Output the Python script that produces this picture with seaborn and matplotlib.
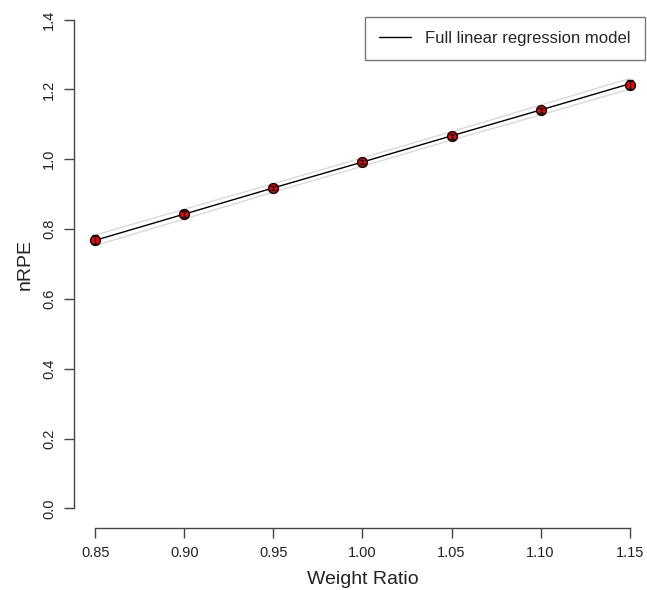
import matplotlib
matplotlib.use("Agg")
import matplotlib.pyplot as plt
import seaborn as sns
import numpy as np
import pandas as pd

weight_ratio = [0.85, 0.90, 0.95, 1.00, 1.05, 1.10, 1.15]
nrpe_mean = [0.770, 0.843, 0.917, 0.992, 1.066, 1.140, 1.214]
nrpe_err = [0.012, 0.008, 0.006, 0.006, 0.007, 0.008, 0.013]
fit_values = [0.768, 0.843, 0.918, 0.992, 1.067, 1.141, 1.216]
fit_upper = [0.783, 0.857, 0.930, 1.004, 1.079, 1.155, 1.231]
fit_lower = [0.753, 0.829, 0.906, 0.980, 1.055, 1.127, 1.201]
x_ticks = [0.85, 0.90, 0.95, 1.00, 1.05, 1.10, 1.15]
x_tick_labels = ["0.85", "0.90", "0.95", "1.00", "1.05", "1.10", "1.15"]
y_ticks = [0.0, 0.2, 0.4, 0.6, 0.8, 1.0, 1.2, 1.4]
y_tick_labels = ["0.0", "0.2", "0.4", "0.6", "0.8", "1.0", "1.2", "1.4"]

df = pd.DataFrame({"x": weight_ratio, "y": nrpe_mean, "err": nrpe_err,
                   "fit": fit_values, "up": fit_upper, "lo": fit_lower})

sns.set_style("white")
plt.rcParams['font.family'] = ['Liberation Sans', 'DejaVu Sans']

fig = plt.figure(figsize=(6.47, 5.90), dpi=100)
ax = fig.add_axes([74/647, 62/590, (651-74)/647, 528/590])

sns.lineplot(data=df, x="x", y="up", ax=ax, color="#d9d9d9", lw=1.0, label="_nolegend_")
sns.lineplot(data=df, x="x", y="lo", ax=ax, color="#d9d9d9", lw=1.0, label="_nolegend_")
sns.lineplot(data=df, x="x", y="fit", ax=ax, color="black", lw=1.0,
             label="Full linear regression model")
sns.scatterplot(data=df, x="x", y="y", ax=ax, color="red", edgecolor="black",
                linewidth=1.0, s=50, zorder=4, legend=False)
ax.errorbar(df["x"], df["y"], yerr=df["err"], fmt="none", ecolor="black",
            elinewidth=1.0, capsize=2.5, capthick=1.0, zorder=5)

ax.set_xlim(0.838, 1.162)
ax.set_ylim(-0.056, 1.456)
ax.set_xticks(x_ticks)
ax.set_xticklabels(x_tick_labels, fontsize=10.5)
ax.set_yticks(y_ticks)
ax.set_yticklabels(y_tick_labels, fontsize=10.5, rotation=90, va="center")
ax.tick_params(axis="both", direction="out", length=7, width=1.0, color="#444444",
               pad=6, labelcolor="#222222", bottom=True, left=True)
for s in ["top", "right"]:
    ax.spines[s].set_visible(False)
ax.spines["left"].set_bounds(0.0, 1.4)
ax.spines["bottom"].set_bounds(0.85, 1.15)
for s in ["left", "bottom"]:
    ax.spines[s].set_color("#444444")
    ax.spines[s].set_linewidth(1.0)

ax.set_xlabel("Weight Ratio", fontsize=14, color="#222222", labelpad=8)
ax.set_ylabel("nRPE", fontsize=14, color="#222222", labelpad=6)

leg = ax.legend(loc="upper right", bbox_to_anchor=(645/647, 1 - 17/590), bbox_transform=fig.transFigure,
                fontsize=12, frameon=True, fancybox=False, handlelength=1.9,
                borderpad=0.85, handletextpad=0.85, borderaxespad=0)
leg.get_frame().set_edgecolor("#555555")
leg.get_frame().set_linewidth(1.0)

fig.savefig("out.png", dpi=100)
